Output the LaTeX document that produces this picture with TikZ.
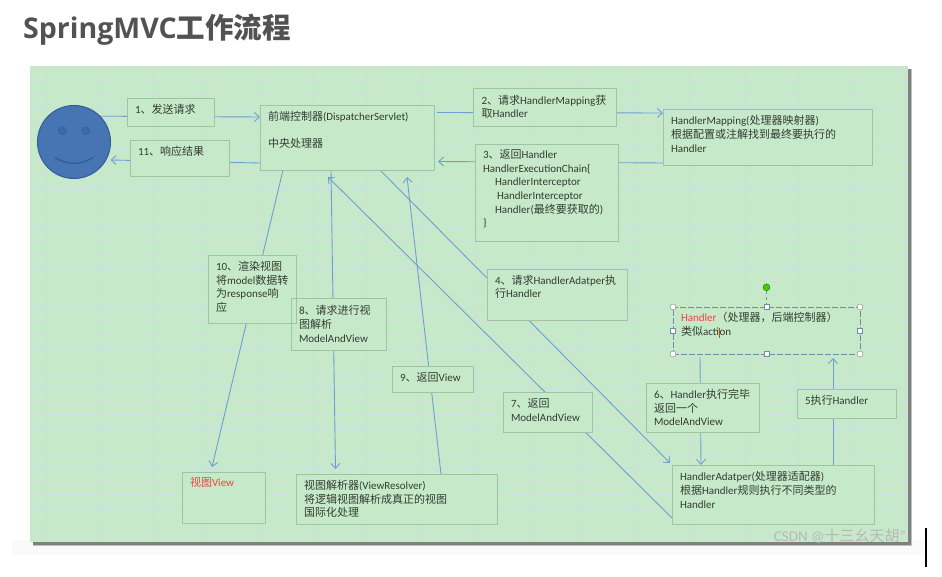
\documentclass[tikz,border=0pt]{standalone}
\usepackage{fontspec}
\setmainfont{Carlito}
\newfontfamily\cjk{Noto Sans CJK SC}
\newfontfamily\headfont{Open Sans}
\usetikzlibrary{arrows.meta, positioning, backgrounds}
\newcommand{\zh}[1]{{\cjk\fontsize{11}{13.6}\selectfont #1}}
\definecolor{panelGreen}{HTML}{C6E9C9}
\definecolor{edgeGreen}{HTML}{A0C4A3}
\definecolor{gridLine}{HTML}{CFDEDB}
\definecolor{flowBlue}{HTML}{6F9FD0}
\definecolor{inkGray}{HTML}{323C32}
\definecolor{inkRed}{HTML}{EE4444}
\definecolor{faceBlue}{HTML}{4775B3}
\definecolor{faceEdge}{HTML}{2F5C96}
\definecolor{handleEdge}{HTML}{6F8F9C}
\tikzset{
    >={Straight Barb[length=5pt,width=9pt]},
    % Boxes
    box/.style 2 args={rectangle, draw=edgeGreen, fill=panelGreen, line width=0.8pt,
                 minimum width=#1pt, minimum height=#2pt, inner xsep=8pt, inner ysep=0pt, outer sep=0pt,
                 text width=#1pt-16pt, align=left, text=inkGray,
                 font=\fontsize{11}{13.6}\selectfont},
    lift/.style={execute at end node={\par\vspace*{#1}}},
    % Smiley
    face/.style={circle, draw=faceEdge, fill=faceBlue, line width=1pt, minimum size=73pt, inner sep=0pt, outer sep=0pt},
    eye/.style={circle, draw=faceEdge, fill=faceBlue!90!black, minimum size=8pt, inner sep=0pt},
    % Selection handles
    gripCorner/.style={circle, draw=gray, fill=white, minimum size=6pt, inner sep=0pt},
    gripSide/.style={rectangle, draw=handleEdge, fill=white, minimum size=5pt, inner sep=0pt},
    gripTurn/.style={circle, draw=green!50!black, fill=green!70!black!70!yellow, minimum size=7pt, inner sep=0pt},
    % Flow
    flow/.style={->, line width=0.9pt, flowBlue}
}

\begin{document}
\begin{tikzpicture}[x=1pt, y=-1pt]
\useasboundingbox (0,0) rectangle (942,577);

\begin{scope}[on background layer]
\fill[black!2] (12,540) rectangle (924,555);
\fill[black!25] (33,69) rectangle (912,546);
\fill[black!50] (33,69) rectangle (910.5,544.5);
\fill[panelGreen] (30,66) rectangle (908,542);
\foreach \row in {0,...,35}
    \draw[gridLine, line width=0.8pt] (30,68.3+13.33*\row) -- (908,68.3+13.33*\row);
\foreach \col in {0,...,16}
    \draw[gridLine, line width=0.8pt] (45.3+53.75*\col,66) -- (45.3+53.75*\col,542);
\fill[black] (925.2,528) rectangle (927.2,567);
\end{scope}

\node[anchor=west, inner sep=0pt, text=black!68, font=\headfont\bfseries\fontsize{28.5}{30}\selectfont] (title) at (23,30)
    {SpringMVC{\cjk\bfseries 工作流程}};

\node[face] (person) at (74,142) {};
\node[eye] (eyeL) at ([shift={(-11.7,-11.3)}]person.center) {};
\node[eye] (eyeR) at ([shift={(11.7,-11.3)}]person.center) {};

\node[box={174}{65}, lift=15pt, anchor=north west] (disp) at (260,105)
    {\zh{前端控制器}(DispatcherServlet)\\[13.6pt]\zh{中央处理器}};
\node[box={87}{28}, lift=6pt, below left=-7pt and 46pt of disp.north west] (send) {1\zh{、发送请求}};
\node[box={99}{36}, lift=12.6pt, above left=-6pt and 31pt of disp.south west] (reply) {11\zh{、响应结果}};
\node[box={142.5}{38}, above right=-21pt and 39.5pt of disp.north east] (askMap)
    {2\zh{、请求}HandlerMapping\zh{获}\\\zh{取}Handler};
\node[box={143}{97}, lift=7pt, below right=-26pt and 41pt of disp.south east] (chain)
    {3\zh{、返回}Handler\\HandlerExecutionChain\{\\
     \hspace*{12pt}HandlerInterceptor\\\hspace*{14pt}HandlerInterceptor\\
     \hspace*{12pt}Handler(\zh{最终要获取的})\\\}};
\node[box={209}{56}, lift=6pt, below right=21pt and 47pt of askMap.north east] (mapping)
    {HandlerMapping(\zh{处理器映射器})\\\zh{根据配置或注解找到最终要执行的}\\Handler};
\node[box={140}{51}, lift=15pt, below right=28pt and 12pt of chain.south west] (askAdapter)
    {4\zh{、请求}HandlerAdatper\zh{执}\\\zh{行}Handler};
\node[box={187}{47}, lift=11pt, below right=38pt and 46pt of askAdapter.north east, dash pattern=on 6pt off 2pt, draw=handleEdge] (handler)
    {{\color{inkRed}Handler}\zh{（处理器，后端控制器）}\\\zh{类似}acti{\color{orange!70!black}\rule[-2pt]{0.6pt}{10pt}}on};
\node[box={113}{49}, below right=29pt and -27pt of handler.south west] (done)
    {6\zh{、}Handler\zh{执行完毕}\\\zh{返回一个}\\ModelAndView};
\node[box={99}{29}, lift=7pt, below right=35pt and -63pt of handler.south east] (runH) {5\zh{执行}Handler};
\node[box={202}{59}, lift=9pt, below right=33pt and 26pt of done.south west] (adapter)
    {HandlerAdatper(\zh{处理器适配器})\\\zh{根据}Handler\zh{规则执行不同类型的}\\Handler};
\node[box={89}{40}, lift=4pt, above left=33pt and 80pt of adapter.north west] (backMV)
    {7\zh{、返回}\\ModelAndView};
\node[box={201}{50}, above left=0pt and 175pt of adapter.south west] (resolver)
    {\zh{视图解析器}(ViewResolver)\\\zh{将逻辑视图解析成真正的视图}\\\zh{国际化处理}};
\node[box={83}{51}, lift=30pt, above left=1pt and 31pt of resolver.south west] (view)
    {\color{inkRed}\zh{视图}View};
\node[box={81}{26}, lift=4pt, above right=82pt and 96pt of resolver.north west] (backView) {9\zh{、返回}View};
\node[box={95}{52}, above right=124pt and -5pt of resolver.north west] (askView)
    {8\zh{、请求进行视}\\\zh{图解析}\\ModelAndView};
\node[box={88}{68}, lift=4pt, above right=149pt and 26pt of view.north west] (render)
    {10\zh{、渲染视图}\\\zh{将}model\zh{数据转}\\\zh{为}response\zh{响}\\\zh{应}};
\draw[draw=edgeGreen, line width=0.8pt] (askView.north west) rectangle (askView.south east);

\foreach \a in {north west, north east, south west, south east}
    \node[gripCorner] (grip \a) at (handler.\a) {};
\foreach \a in {north, south, east, west}
    \node[gripSide] (grip \a) at (handler.\a) {};
\node[gripTurn, above=16pt of handler.north] (gripTop) {};
\draw[dashed, handleEdge, line width=0.8pt] (gripTop) -- (grip north);

\draw[faceEdge, line width=1.2pt] ([shift={(-19,15.5)}]person.center) to[bend right=32] ([shift={(19,15.5)}]person.center);

\node[anchor=east, inner sep=0pt, text=black!28, font=\fontsize{15}{16}\selectfont] (mark) at (906,536)
    {CSDN @{\cjk 十三幺天胡}"};

\begin{scope}[on background layer]
\draw[flow] (person.45) -- ([yshift=-12pt]disp.north west);
\draw[flow] ([yshift=7pt]disp.south west) -- ([yshift=-18pt]person.east);
\draw[flow] ([shift={(3pt,-7.5pt)}]disp.north east) -- ([yshift=-4pt]mapping.north west);
\draw[flow] ([yshift=2pt]mapping.south west) -- ([shift={(4pt,8.5pt)}]disp.south east);
\draw[flow] ([xshift=-54pt]disp.south east) -- ([shift={(-2pt,2pt)}]adapter.north west);
\draw[flow] ([xshift=-41pt]adapter.north east) -- ([shift={(-27pt,-4pt)}]handler.south east);
\draw[flow] ([shift={(27pt,-3pt)}]handler.south west) -- ([xshift=29pt]adapter.north west);
\draw[flow] ([yshift=6pt]adapter.south west) -- ([shift={(68pt,-7pt)}]disp.south west);
\draw[flow] ([xshift=71pt]disp.south west) -- ([shift={(39.5pt,5pt)}]resolver.north west);
\draw[flow] ([xshift=145pt]resolver.north west) -- ([shift={(147pt,-7pt)}]disp.south west);
\draw[flow] ([xshift=23pt]disp.south west) -- ([shift={(30pt,5pt)}]view.north west);
\end{scope}

\end{tikzpicture}
\end{document}
